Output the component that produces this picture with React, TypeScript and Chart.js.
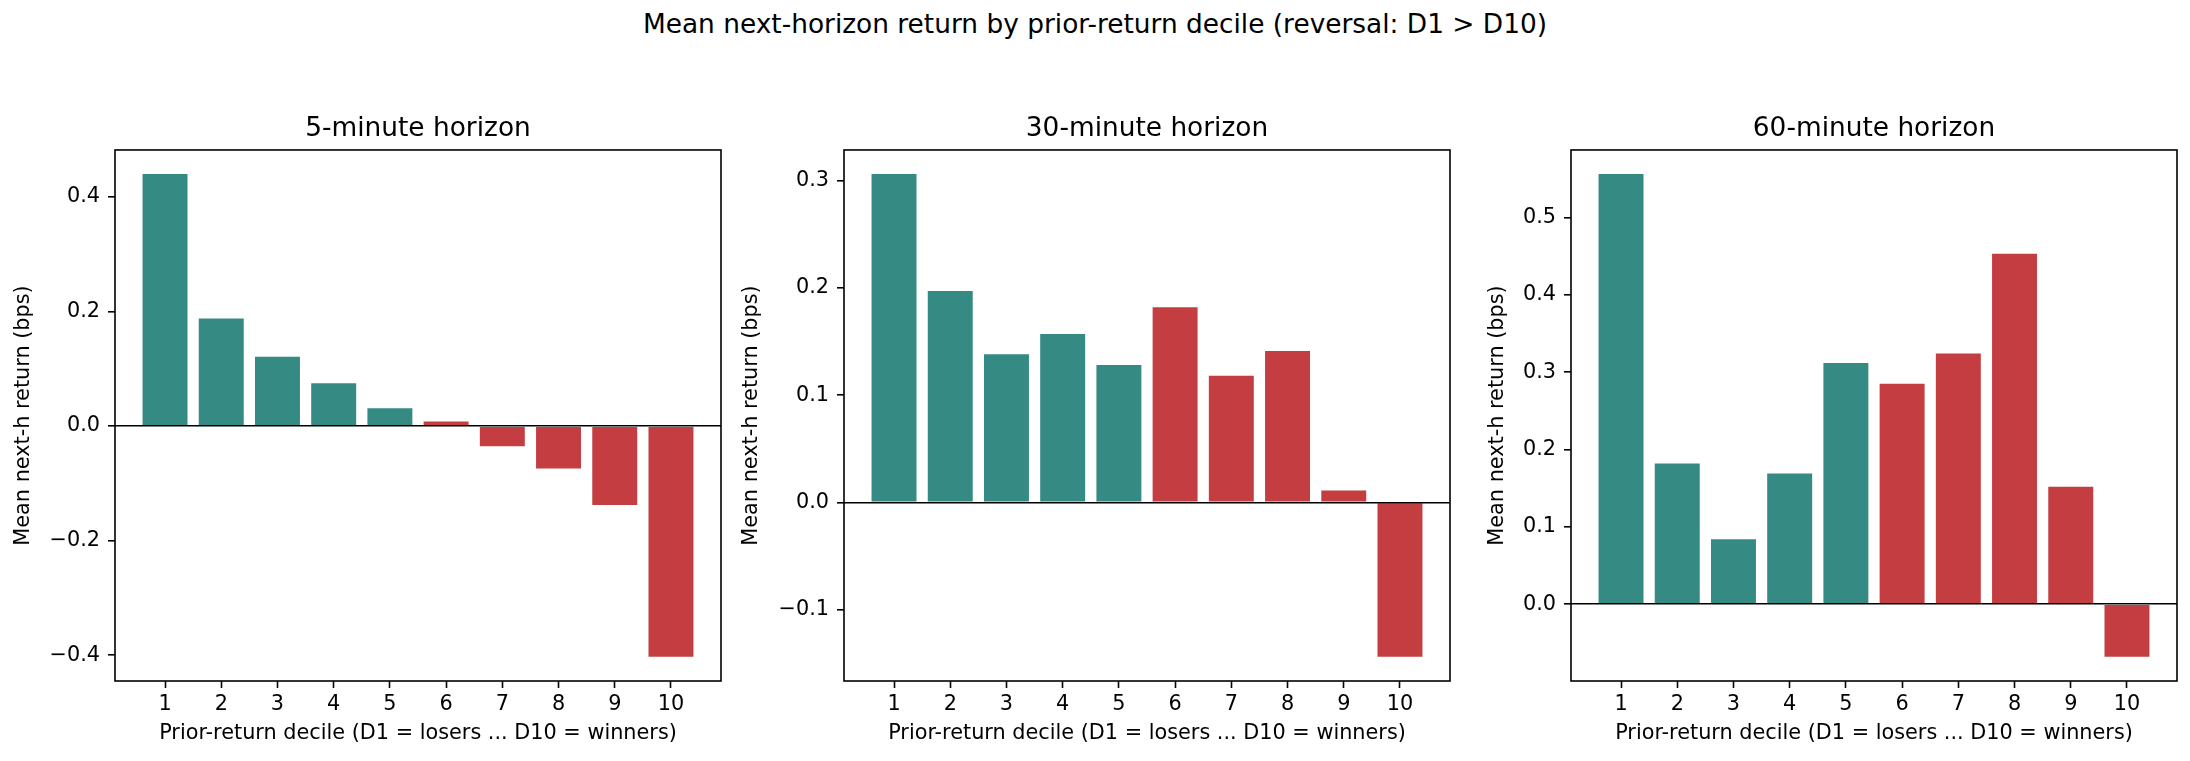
import { useEffect, useRef } from 'react';
import Chart from 'chart.js/auto';

const deciles = [1, 2, 3, 4, 5, 6, 7, 8, 9, 10];
const ret5m = [0.44, 0.188, 0.121, 0.075, 0.031, 0.008, -0.035, -0.074, -0.138, -0.403];
const ret30m = [0.306, 0.197, 0.138, 0.157, 0.128, 0.182, 0.118, 0.141, 0.011, -0.144];
const ret60m = [0.556, 0.182, 0.084, 0.169, 0.312, 0.285, 0.324, 0.453, 0.152, -0.068];
const ticks5m = [-0.4, -0.2, 0, 0.2, 0.4];
const ticks30m = [-0.1, 0, 0.1, 0.2, 0.3];
const ticks60m = [0, 0.1, 0.2, 0.3, 0.4, 0.5];

const TEAL = '#358a83';
const RED = '#c43e41';
const barColors = deciles.map(d => (d <= 5 ? TEAL : RED));

const FONT = 'DejaVu Sans';
const xTitle = 'Prior-return decile (D1 = losers ... D10 = winners)';
const yTitle = 'Mean next-h return (bps)';

// draws all four spines like matplotlib
const framePlugin = {
  id: 'frame',
  afterDraw(chart: any) {
    const { ctx, chartArea: a } = chart;
    ctx.save();
    ctx.strokeStyle = '#000';
    ctx.lineWidth = 1.6;
    ctx.strokeRect(a.left, a.top, a.right - a.left, a.bottom - a.top);
    ctx.restore();
  },
};

interface PanelProps {
  title: string;
  values: number[];
  yTicks: number[];
  left: number;
  width: number;
  yWidth: number;
  padRight: number;
}

function Panel({ title, values, yTicks, left, width, yWidth, padRight }: PanelProps) {
  const chartRef = useRef<HTMLCanvasElement>(null);
  const chartInstance = useRef<Chart | null>(null);
  const height = 651;

  useEffect(() => {
    if (!chartRef.current) return;
    if (chartInstance.current) chartInstance.current.destroy();
    const ctx = chartRef.current.getContext('2d');
    if (!ctx) return;

    const lo = Math.min(0, ...values);
    const hi = Math.max(0, ...values);
    const ym = (hi - lo) * 0.05;
    const xLo = deciles[0] - 0.4;
    const xHi = deciles[deciles.length - 1] + 0.4;
    const xm = (xHi - xLo) * 0.05;
    const tickFont = { family: FONT, size: 20.8, lineHeight: 1.2 };

    chartInstance.current = new Chart(ctx, {
      type: 'bar',
      data: {
        datasets: [
          {
            data: deciles.map((d, i) => ({ x: d, y: values[i] })),
            backgroundColor: barColors,
            borderWidth: 0,
            barPercentage: 0.8,
            categoryPercentage: 1,
          },
        ],
      },
      options: {
        animation: false,
        responsive: false,
        devicePixelRatio: 1,
        layout: { padding: { left: 0, right: padRight, top: 0, bottom: 0 } },
        plugins: {
          legend: { display: false },
          tooltip: { enabled: false },
          title: {
            display: true,
            text: title,
            fullSize: false,
            color: '#000',
            font: { family: FONT, size: 26.4, weight: 'normal', lineHeight: 1.2 },
            padding: { top: 18.2, bottom: 5.1 },
          },
        },
        scales: {
          x: {
            type: 'linear',
            offset: false,
            min: xLo - xm,
            max: xHi + xm,
            afterBuildTicks: (s: any) => {
              s.ticks = deciles.map(v => ({ value: v }));
            },
            afterFit: (s: any) => {
              s.height = 65;
            },
            grid: {
              offset: false,
              color: 'rgba(0,0,0,0)',
              drawOnChartArea: false,
              tickColor: '#000',
              tickLength: 7,
              tickWidth: 1.6,
            },
            border: { display: false },
            ticks: {
              color: '#000',
              font: tickFont,
              padding: 4,
              autoSkip: false,
              maxRotation: 0,
              callback: (v: any) => String(v),
            },
            title: { display: true, text: xTitle, color: '#000', font: tickFont, padding: 0 },
          },
          y: {
            min: lo - ym,
            max: hi + ym,
            afterBuildTicks: (s: any) => {
              s.ticks = yTicks.map(v => ({ value: v }));
            },
            afterFit: (s: any) => {
              s.width = yWidth;
            },
            grid: {
              z: 1,
              color: (c: any) => (c.tick && Math.abs(c.tick.value) < 1e-9 ? '#000' : 'rgba(0,0,0,0)'),
              lineWidth: 1.6,
              tickColor: '#000',
              tickLength: 7,
              tickWidth: 1.6,
            },
            border: { display: false },
            ticks: {
              color: '#000',
              font: tickFont,
              padding: 8,
              callback: (v: any) => Number(v).toFixed(1).replace('-', '\u2212'),
            },
            title: { display: true, text: yTitle, color: '#000', font: tickFont, padding: 0 },
          },
        },
      },
      plugins: [framePlugin],
    });

    return () => {
      if (chartInstance.current) {
        chartInstance.current.destroy();
        chartInstance.current = null;
      }
    };
  }, [title, values, yTicks, yWidth, padRight]);

  return (
    <canvas
      ref={chartRef}
      width={width}
      height={height}
      style={{ position: 'absolute', left, top: 95, width, height }}
    />
  );
}

export default function App() {
  return (
    <div
      style={{
        position: 'absolute',
        left: 0,
        top: 0,
        width: 2190,
        height: 761,
        background: '#fff',
        overflow: 'hidden',
      }}
    >
      <div
        style={{
          position: 'absolute',
          left: 0,
          top: 11,
          width: 2190,
          textAlign: 'center',
          fontFamily: FONT,
          fontSize: 26.4,
          lineHeight: '26px',
          color: '#000',
        }}
      >
        Mean next-horizon return by prior-return decile (reversal: D1 &gt; D10)
      </div>
      <Panel title="5-minute horizon" values={ret5m} yTicks={ticks5m} left={11} width={730} yWidth={104} padRight={20} />
      <Panel title="30-minute horizon" values={ret30m} yTicks={ticks30m} left={739} width={731} yWidth={105} padRight={20} />
      <Panel title="60-minute horizon" values={ret60m} yTicks={ticks60m} left={1485} width={705} yWidth={86} padRight={13} />
    </div>
  );
}
